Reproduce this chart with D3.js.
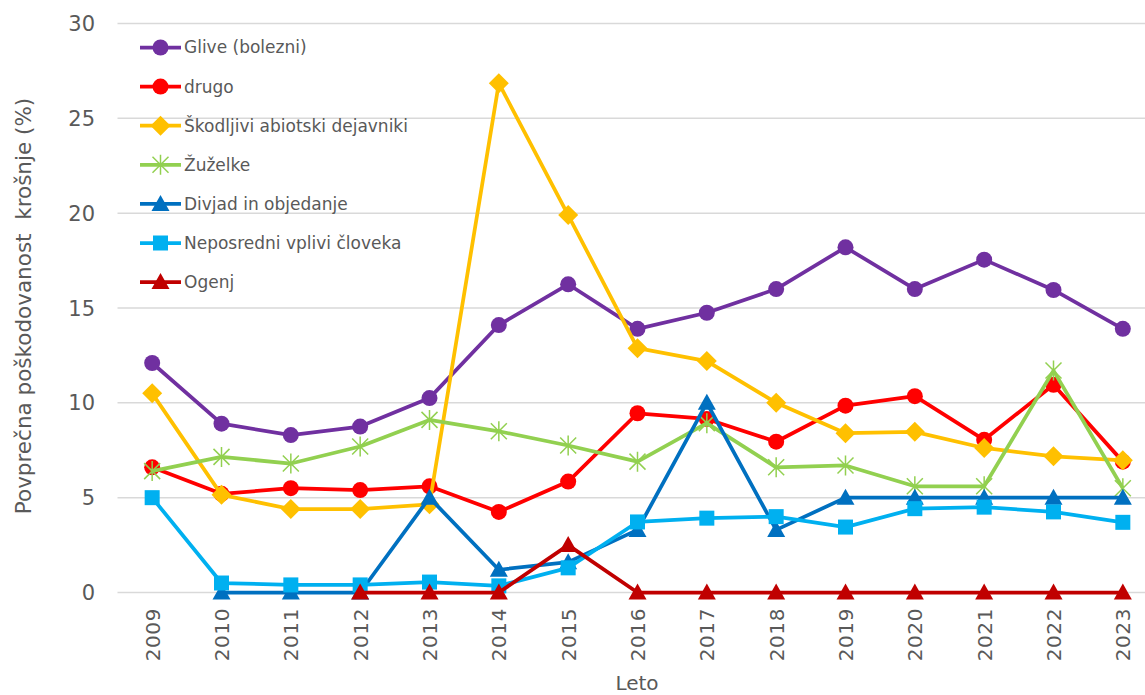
<!DOCTYPE html>
<html>
<head>
<meta charset="utf-8">
<script src="https://cdn.jsdelivr.net/npm/d3@7"></script>
<style>
  body { margin: 0; background: #fff; }
  text { font-family: "DejaVu Sans", Verdana, sans-serif; fill: #595959; }
</style>
</head>
<body>
<script>
// years on the x axis
var years = ["2009","2010","2011","2012","2013","2014","2015","2016","2017","2018","2019","2020","2021","2022","2023"];

// values per series (null = no data)
var glive      = [12.1, 8.9, 8.3, 8.75, 10.25, 14.1, 16.25, 13.9, 14.75, 16.0, 18.2, 16.0, 17.55, 15.95, 13.9];
var drugo      = [6.6, 5.2, 5.5, 5.4, 5.6, 4.25, 5.85, 9.45, 9.15, 7.95, 9.85, 10.35, 8.05, 10.95, 6.9];
var skodljivi  = [10.5, 5.15, 4.4, 4.4, 4.65, 26.85, 19.9, 12.88, 12.2, 10.0, 8.4, 8.47, 7.62, 7.18, 6.97];
var zuzelke    = [6.4, 7.15, 6.8, 7.7, 9.1, 8.5, 7.75, 6.9, 8.93, 6.6, 6.7, 5.6, 5.6, 11.7, 5.5];
var divjad     = [null, 0, 0, 0, 5.0, 1.2, 1.6, 3.3, 10.0, 3.3, 5.0, 5.0, 5.0, 5.0, 5.0];
var neposredni = [5.0, 0.5, 0.4, 0.4, 0.55, 0.35, 1.3, 3.72, 3.92, 4.0, 3.45, 4.42, 4.5, 4.25, 3.7];
var ogenj      = [null, null, null, 0, 0, 0, 2.5, 0, 0, 0, 0, 0, 0, 0, 0];

var yTicks = [0, 5, 10, 15, 20, 25, 30];

var series = [
  {name: "Glive (bolezni)", values: glive, color: "#7030A0", marker: "circle"},
  {name: "drugo", values: drugo, color: "#FF0000", marker: "circle"},
  {name: "Škodljivi abiotski dejavniki", values: skodljivi, color: "#FFC000", marker: "diamond"},
  {name: "Žuželke", values: zuzelke, color: "#92D050", marker: "star"},
  {name: "Divjad in objedanje", values: divjad, color: "#0070C0", marker: "triangle"},
  {name: "Neposredni vplivi človeka", values: neposredni, color: "#00B0F0", marker: "square"},
  {name: "Ogenj", values: ogenj, color: "#C00000", marker: "triangle"}
];

var width = 1145, height = 695;

var svg = d3.select("body").append("svg")
  .attr("width", width)
  .attr("height", height);

var x = d3.scalePoint()
  .domain(years)
  .range([117.5, 1157.5])
  .padding(0.5);

var y = d3.scaleLinear()
  .domain([0, 30])
  .range([592.5, 23.5]);

// gridlines
svg.append("g")
  .selectAll("line")
  .data(yTicks)
  .enter().append("line")
  .attr("x1", 117.5)
  .attr("x2", width)
  .attr("y1", function(d) { return y(d); })
  .attr("y2", function(d) { return y(d); })
  .style("stroke", "#d9d9d9")
  .style("stroke-width", 1.5);

// y tick labels
svg.append("g")
  .selectAll("text")
  .data(yTicks)
  .enter().append("text")
  .attr("x", 95)
  .attr("y", function(d) { return y(d); })
  .attr("dy", "0.36em")
  .attr("text-anchor", "end")
  .style("font-size", "21px")
  .text(function(d) { return d; });

// x tick labels (rotated)
svg.append("g")
  .selectAll("text")
  .data(years)
  .enter().append("text")
  .attr("transform", function(d) { return "translate(" + (x(d) + 7.5) + ",608) rotate(-90)"; })
  .attr("text-anchor", "end")
  .style("font-size", "20px")
  .style("letter-spacing", "0.6px")
  .text(function(d) { return d; });

// axis titles
svg.append("text")
  .attr("xml:space", "preserve")
  .attr("transform", "translate(31,306) rotate(-90)")
  .attr("text-anchor", "middle")
  .style("font-size", "21.5px")
  .text("Povprečna poškodovanost  krošnje (%)");

svg.append("text")
  .attr("x", 637)
  .attr("y", 690)
  .attr("text-anchor", "middle")
  .style("font-size", "20px")
  .text("Leto");

// marker drawing
function drawMarker(g, type, color) {
  if (type == "circle") {
    g.append("circle").attr("r", 8).style("fill", color);
  } else if (type == "diamond") {
    g.append("path").attr("d", "M0,-10L10,0L0,10L-10,0Z").style("fill", color);
  } else if (type == "square") {
    g.append("rect").attr("x", -7.5).attr("y", -7.5).attr("width", 15).attr("height", 15).style("fill", color);
  } else if (type == "triangle") {
    g.append("path").attr("d", "M0,-9L9,7L-9,7Z").style("fill", color);
  } else if (type == "star") {
    g.append("path")
      .attr("d", "M0,-10L0,10M-8,-8L8,8M-8,8L8,-8")
      .style("stroke", color)
      .style("stroke-width", 1.5)
      .style("fill", "none");
  }
}

var line = d3.line()
  .defined(function(d) { return d.v != null; })
  .x(function(d) { return x(d.year); })
  .y(function(d) { return y(d.v); });

series.forEach(function(s) {
  var pts = years.map(function(yr, i) { return {year: yr, v: s.values[i]}; });
  var g = svg.append("g");
  g.append("path")
    .datum(pts)
    .attr("d", line)
    .style("fill", "none")
    .style("stroke", s.color)
    .style("stroke-width", 3.75)
    .style("stroke-linejoin", "round");
  pts.filter(function(d) { return d.v != null; }).forEach(function(d) {
    var m = g.append("g").attr("transform", "translate(" + x(d.year) + "," + y(d.v) + ")");
    drawMarker(m, s.marker, s.color);
  });
});

// legend
var legend = svg.append("g")
  .selectAll("g")
  .data(series)
  .enter().append("g")
  .attr("transform", function(d, i) { return "translate(140," + (47.5 + i * 39.1) + ")"; });

legend.append("line")
  .attr("x1", 0).attr("x2", 41)
  .style("stroke", function(d) { return d.color; })
  .style("stroke-width", 3.75);

legend.each(function(d) {
  var m = d3.select(this).append("g").attr("transform", "translate(20.5,0)");
  drawMarker(m, d.marker, d.color);
});

legend.append("text")
  .attr("x", 44)
  .attr("dy", "0.35em")
  .style("font-size", "17px")
  .text(function(d) { return d.name; });
</script>
</body>
</html>
